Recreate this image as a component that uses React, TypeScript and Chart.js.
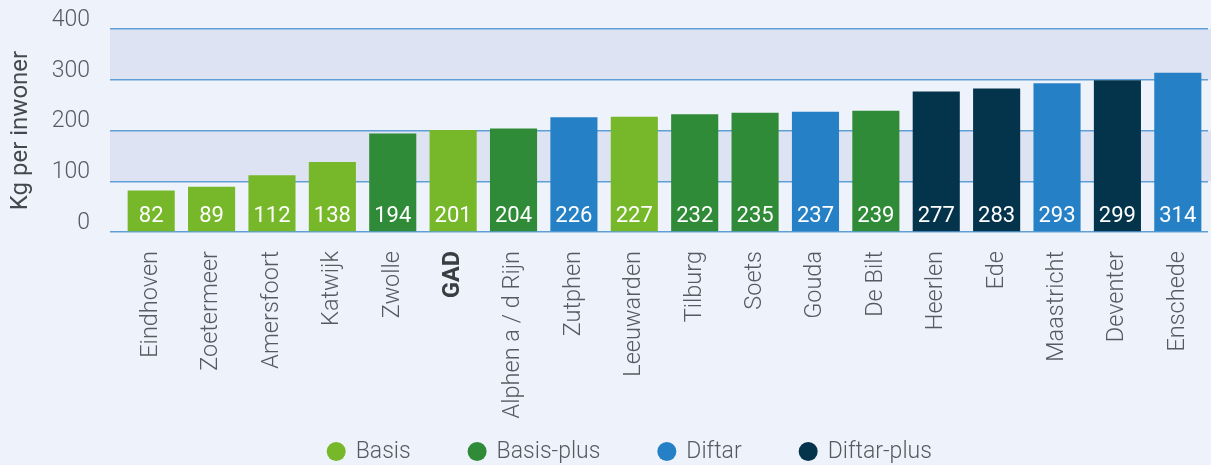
import { useEffect, useRef } from "react";
import { Chart, registerables } from "chart.js";

Chart.register(...registerables);

const cities = [
  "Eindhoven", "Zoetermeer", "Amersfoort", "Katwijk", "Zwolle", "GAD",
  "Alphen a / d Rijn", "Zutphen", "Leeuwarden", "Tilburg", "Soets", "Gouda",
  "De Bilt", "Heerlen", "Ede", "Maastricht", "Deventer", "Enschede",
];
const values = [82, 89, 112, 138, 194, 201, 204, 226, 227, 232, 235, 237, 239, 277, 283, 293, 299, 314];
const cityScheme = [
  "Basis", "Basis", "Basis", "Basis", "Basis-plus", "Basis",
  "Basis-plus", "Diftar", "Basis", "Basis-plus", "Basis-plus", "Diftar",
  "Basis-plus", "Diftar-plus", "Diftar-plus", "Diftar", "Diftar-plus", "Diftar",
];
const schemeNames = ["Basis", "Basis-plus", "Diftar", "Diftar-plus"];
const schemeColors = ["#76b82a", "#2f8b37", "#2680c6", "#04344b"];
const yMin = 0;
const yMax = 400;
const yStep = 100;
const bands = [[100, 200], [300, 400]];
const highlighted = "GAD";
const yTitle = "Kg per inwoner";

const FONT = "Roboto, 'Noto Sans', sans-serif";
const BG = "#eef2fb";
const BAND = "#dee3f4";
const GRID = "#5e9fd6";
const TEXT = "#565b62";

export default function App() {
  const ref = useRef<HTMLCanvasElement | null>(null);

  useEffect(() => {
    document.body.style.margin = "0";
    document.body.style.overflow = "hidden";
    const canvas = ref.current;
    if (!canvas) return;

    const colorOf = (s: string) => schemeColors[schemeNames.indexOf(s)];

    const bgPlugin = {
      id: "bgBands",
      beforeDraw(chart: any) {
        const { ctx, chartArea } = chart;
        const y = chart.scales.y;
        ctx.save();
        ctx.fillStyle = BG;
        ctx.fillRect(0, 0, chart.width, chart.height);
        ctx.fillStyle = BAND;
        for (const [a, b] of bands) {
          const top = y.getPixelForValue(b);
          const bottom = y.getPixelForValue(a);
          ctx.fillRect(chartArea.left - 11, top, chart.width - (chartArea.left - 11), bottom - top);
        }
        ctx.restore();
      },
    };

    const valuePlugin = {
      id: "barValues",
      afterDatasetsDraw(chart: any) {
        const { ctx } = chart;
        const meta = chart.getDatasetMeta(0);
        ctx.save();
        ctx.fillStyle = "#ffffff";
        ctx.font = `400 22px ${FONT}`;
        ctx.textAlign = "center";
        ctx.textBaseline = "middle";
        meta.data.forEach((bar: any, i: number) => {
          ctx.fillText(String(values[i]), bar.x, bar.base - 14.5);
        });
        ctx.restore();
      },
    };

    const legendPlugin = {
      id: "schemeLegend",
      afterDraw(chart: any) {
        const { ctx } = chart;
        ctx.save();
        ctx.font = `300 23px ${FONT}`;
        ctx.textBaseline = "middle";
        ctx.textAlign = "left";
        const r = 9.5;
        const textGap = 19.5;
        const itemGap = 66.5;
        const cy = 451.5;
        let cx = 336.2;
        schemeNames.forEach((n, i) => {
          ctx.fillStyle = schemeColors[i];
          ctx.beginPath();
          ctx.arc(cx, cy, r, 0, Math.PI * 2);
          ctx.fill();
          ctx.fillStyle = TEXT;
          ctx.fillText(n, cx + textGap, cy + 1);
          cx += textGap + ctx.measureText(n).width + itemGap;
        });
        ctx.restore();
      },
    };

    const chart = new Chart(canvas, {
      type: "bar",
      data: {
        labels: cities,
        datasets: [
          {
            label: "Kg per inwoner",
            data: values,
            backgroundColor: cityScheme.map(colorOf),
            borderWidth: 0,
            barPercentage: 0.78,
            categoryPercentage: 1,
          },
        ],
      },
      options: {
        responsive: false,
        animation: false,
        layout: { padding: { top: 29, right: 3, bottom: 33, left: 0 } },
        plugins: {
          tooltip: { enabled: false },
          legend: { display: false },
        },
        scales: {
          x: {
            grid: { display: false, drawTicks: false },
            border: { display: false },
            ticks: {
              autoSkip: false,
              maxRotation: 90,
              minRotation: 90,
              padding: 19,
              color: (c: any) => (cities[c.index] === highlighted ? "#3a3d42" : TEXT),
              font: (c: any) =>
                cities[c.index] === highlighted
                  ? { family: FONT, size: 23.5, weight: "bold" }
                  : { family: FONT, size: 23.5, weight: "300" },
            },
            afterFit(scale: any) {
              scale.height = 200;
              scale.paddingLeft = 0;
              scale.paddingRight = 0;
            },
          },
          y: {
            min: yMin,
            max: yMax,
            border: { display: false },
            grid: {
              color: GRID,
              lineWidth: 1.5,
              drawTicks: true,
              tickLength: 11,
              tickColor: GRID,
            },
            ticks: {
              stepSize: yStep,
              padding: 20,
              labelOffset: -9,
              color: TEXT,
              font: { family: FONT, size: 23, weight: "300" },
            },
            title: {
              display: true,
              text: yTitle,
              color: "#45494f",
              padding: { top: 7, bottom: 0 },
              font: { family: FONT, size: 24, weight: "400" },
            },
            afterFit(scale: any) {
              scale.width = 121;
              scale.paddingTop = 0;
              scale.paddingBottom = 0;
            },
          },
        },
      },
      plugins: [bgPlugin, valuePlugin, legendPlugin],
    } as any);

    return () => chart.destroy();
  }, []);

  return (
    <div style={{ position: "absolute", left: 0, top: 0, width: 1211, height: 465, background: BG }}>
      <canvas ref={ref} width={1211} height={465} style={{ display: "block" }} />
    </div>
  );
}
